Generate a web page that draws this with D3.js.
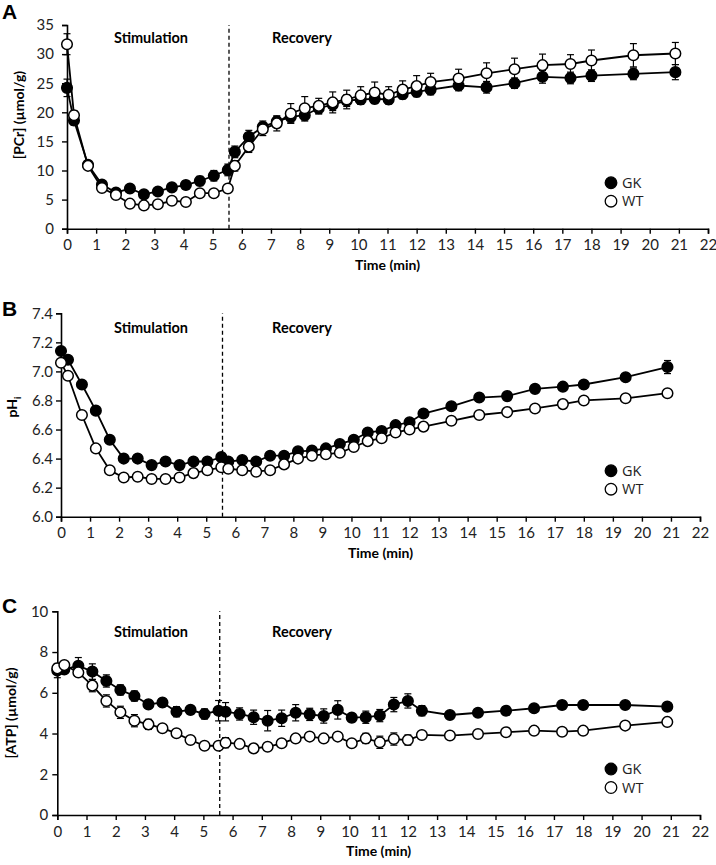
<!DOCTYPE html>
<html><head><meta charset="utf-8">
<script src="https://cdn.jsdelivr.net/npm/d3@7"></script>
<style>
body{margin:0;background:#fff;}
svg{display:block;}
</style></head>
<body>
<svg id="chart" width="716" height="865"></svg>
<script>
const times = [0,0.24,0.72,1.2,1.68,2.16,2.64,3.12,3.6,4.08,4.56,5.04,5.52,5.76,6.24,6.72,7.2,7.68,8.16,8.64,9.12,9.6,10.08,10.56,11.04,11.52,12.0,12.48,13.44,14.4,15.36,16.32,17.28,18.0,19.44,20.88];
const xTicks = d3.range(0,23,1);
const stimEnd = 5.56;

const pcrGK = [24.2,18.6,11.0,7.6,6.2,6.9,5.9,6.4,7.1,7.5,8.2,9.1,10.1,13.2,15.8,17.5,18.4,19.2,19.5,20.7,21.3,22.0,22.2,22.3,22.2,23.1,23.5,23.9,24.6,24.3,25.0,26.1,25.9,26.3,26.6,26.9];
const pcrWT = [31.7,19.5,10.8,7.0,5.8,4.3,4.0,4.2,4.8,4.6,6.1,6.1,6.9,10.8,14.1,17.1,18.1,19.8,20.7,21.1,21.7,22.2,22.9,23.4,23.0,23.9,24.5,25.2,25.8,26.7,27.4,28.1,28.3,28.9,29.8,30.1];
const pcrGKerr = [1.5,0.8,0.6,0.5,0.5,0.6,0.6,0.6,0.6,0.7,0.8,0.9,1.0,1.0,1.1,1.0,0.9,1.0,1.0,1.0,1.0,1.0,0.8,0.8,0.8,0.8,0.8,0.9,0.9,1.0,0.9,1.1,1.0,1.0,1.0,1.3];
const pcrWTerr = [1.8,0.8,0.6,0.5,0.5,0.5,0.5,0.5,0.5,0.5,0.6,0.6,0.7,0.9,1.0,1.1,1.3,1.7,2.0,1.3,1.8,1.6,1.5,1.8,1.4,1.5,1.8,1.5,1.6,1.8,1.9,1.9,1.6,1.8,2.0,1.9];
const pcrTicks = [0,5,10,15,20,25,30,35];

const phGK = [7.14,7.08,6.91,6.73,6.53,6.40,6.40,6.355,6.38,6.355,6.38,6.38,6.41,6.38,6.39,6.38,6.42,6.42,6.45,6.455,6.47,6.50,6.53,6.58,6.59,6.63,6.65,6.71,6.76,6.82,6.83,6.88,6.895,6.91,6.96,7.03];
const phWT = [7.06,6.97,6.70,6.47,6.32,6.27,6.275,6.26,6.26,6.27,6.30,6.32,6.34,6.33,6.32,6.31,6.32,6.36,6.40,6.42,6.43,6.44,6.48,6.52,6.54,6.58,6.60,6.62,6.66,6.70,6.72,6.745,6.775,6.80,6.815,6.85];
const phGKerr = [0.02,0.02,0.02,0.02,0.02,0.02,0.02,0.02,0.02,0.02,0.02,0.02,0.02,0.02,0.02,0.02,0.02,0.02,0.02,0.02,0.02,0.02,0.02,0.02,0.02,0.02,0.02,0.02,0.02,0.02,0.02,0.02,0.02,0.02,0.02,0.045];
const phWTerr = [0.02,0.02,0.02,0.02,0.02,0.02,0.02,0.02,0.02,0.02,0.02,0.02,0.02,0.02,0.02,0.02,0.02,0.02,0.02,0.02,0.02,0.02,0.02,0.02,0.02,0.02,0.02,0.02,0.02,0.02,0.02,0.02,0.02,0.02,0.02,0.02];
const phTicks = [6.0,6.2,6.4,6.6,6.8,7.0,7.2,7.4];

const atpGK = [7.09,7.15,7.33,7.04,6.58,6.14,5.84,5.43,5.52,5.07,5.16,4.96,5.12,5.07,4.96,4.80,4.63,4.75,5.02,4.94,4.86,5.16,4.78,4.80,4.88,5.42,5.6,5.12,4.91,5.02,5.12,5.24,5.4,5.4,5.4,5.32];
const atpWT = [7.2,7.36,7.0,6.35,5.6,5.04,4.63,4.45,4.26,4.01,3.68,3.40,3.40,3.55,3.49,3.27,3.35,3.52,3.76,3.85,3.76,3.85,3.52,3.76,3.57,3.73,3.68,3.93,3.90,3.98,4.06,4.14,4.09,4.14,4.39,4.57];
const atpGKerr = [0.35,0.2,0.4,0.38,0.3,0.25,0.25,0.2,0.2,0.25,0.2,0.25,0.5,0.45,0.3,0.35,0.5,0.4,0.4,0.3,0.35,0.45,0.2,0.3,0.3,0.35,0.35,0.25,0.15,0.15,0.2,0.15,0.2,0.2,0.15,0.15];
const atpWTerr = [0.2,0.15,0.2,0.3,0.3,0.3,0.3,0.25,0.15,0.15,0.15,0.15,0.15,0.25,0.15,0.15,0.15,0.15,0.15,0.15,0.15,0.15,0.15,0.25,0.3,0.3,0.25,0.15,0.15,0.15,0.15,0.15,0.15,0.15,0.15,0.15];
const atpTicks = [0,2,4,6,8,10];

const seriesNames = ["GK","WT"];

const svg = d3.select("#chart");
const tickFont = "Lato, 'Open Sans', sans-serif";

function panel(cfg){
  const g = svg.append("g");
  const x = d3.scaleLinear().domain([0,22]).range([cfg.x0, cfg.x1]);
  const y = d3.scaleLinear().domain(cfg.yDomain).range([cfg.yBottom, cfg.yTop]);

  const xa = g.append("g").attr("transform",`translate(0,${cfg.yBottom})`)
    .call(d3.axisBottom(x).tickValues(xTicks).tickSize(5).tickPadding(6).tickFormat(d3.format("d")));
  const ya = g.append("g").attr("transform",`translate(${cfg.x0},0)`)
    .call(d3.axisLeft(y).tickValues(cfg.yTicks).tickSize(5).tickPadding(cfg.yPad).tickFormat(cfg.fmt));
  [xa,ya].forEach(a=>{
    a.select(".domain").attr("stroke","#000").attr("stroke-width",1.6);
    a.selectAll(".tick line").attr("stroke","#000").attr("stroke-width",1.4);
    a.selectAll("text").attr("font-family",tickFont).attr("font-size",15).attr("fill","#222");
  });

  g.append("line").attr("x1",x(stimEnd)).attr("x2",x(stimEnd))
    .attr("y1",cfg.yBottom).attr("y2",cfg.yTop)
    .attr("stroke","#000").attr("stroke-width",1.3).attr("stroke-dasharray","4,3");

  g.append("text").attr("x",151).attr("y",cfg.phaseY).attr("text-anchor","middle")
    .attr("font-family",tickFont).attr("font-weight","bold").attr("font-size",14.5).text("Stimulation");
  g.append("text").attr("x",302).attr("y",cfg.phaseY).attr("text-anchor","middle")
    .attr("font-family",tickFont).attr("font-weight","bold").attr("font-size",14.5).text("Recovery");

  const data = [cfg.gk, cfg.wt];
  const errs = [cfg.gkErr, cfg.wtErr];
  const line = d3.line().x((d,i)=>x(times[i])).y(d=>y(d));
  data.forEach((vals, s)=>{
    const sg = g.append("g");
    sg.append("path").datum(vals).attr("d",line).attr("fill","none")
      .attr("stroke","#000").attr("stroke-width",1.8);
    const eb = sg.selectAll(".eb").data(vals).enter().append("g");
    eb.append("line").attr("x1",(d,i)=>x(times[i])).attr("x2",(d,i)=>x(times[i]))
      .attr("y1",(d,i)=>y(d+errs[s][i])).attr("y2",(d,i)=>y(d-errs[s][i]))
      .attr("stroke","#000").attr("stroke-width",1.2);
    [1,-1].forEach(sign=>{
      eb.append("line").attr("x1",(d,i)=>x(times[i])-3.5).attr("x2",(d,i)=>x(times[i])+3.5)
        .attr("y1",(d,i)=>y(d+sign*errs[s][i])).attr("y2",(d,i)=>y(d+sign*errs[s][i]))
        .attr("stroke","#000").attr("stroke-width",1.2);
    });
    sg.selectAll("circle").data(vals).enter().append("circle")
      .attr("cx",(d,i)=>x(times[i])).attr("cy",d=>y(d)).attr("r",5.3)
      .attr("fill", s===0 ? "#000" : "#fff").attr("stroke","#000").attr("stroke-width",1.5);
  });

  g.append("text").attr("x",(cfg.x0+cfg.x1)/2).attr("y",cfg.yBottom+41).attr("text-anchor","middle")
    .attr("font-family",tickFont).attr("font-weight","bold").attr("font-size",14).text("Time (min)");
  const yt = g.append("text").attr("transform",`translate(${cfg.ytX},${cfg.ytY}) rotate(-90)`)
    .attr("text-anchor","middle").attr("font-family",tickFont).attr("font-weight","bold").attr("font-size",14);
  if(cfg.sub){
    yt.append("tspan").text(cfg.ylabel);
    yt.append("tspan").attr("font-size",9).attr("dy",4).text(cfg.sub);
  } else yt.text(cfg.ylabel);

  g.append("text").attr("x",2).attr("y",cfg.letterY).attr("font-family","'Liberation Sans', Arial, sans-serif")
    .attr("font-weight","bold").attr("font-size",21).text(cfg.letter);

  seriesNames.forEach((n,s)=>{
    const ly = cfg.legY + s*18.5;
    g.append("circle").attr("cx",611).attr("cy",ly).attr("r",5.8)
      .attr("fill", s===0?"#000":"#fff").attr("stroke","#000").attr("stroke-width",1.3);
    g.append("text").attr("x",622).attr("y",ly+5).attr("font-family","'Open Sans', sans-serif")
      .attr("font-size",14.5).attr("fill","#222").text(n);
  });
}

panel({letter:"A", letterY:19, x0:67, x1:708, yBottom:228.7, yTop:25, yDomain:[0,35], yTicks:pcrTicks,
  fmt:d3.format("d"), yPad:8, phaseY:43, gk:pcrGK, wt:pcrWT, gkErr:pcrGKerr, wtErr:pcrWTerr,
  ylabel:"[PCr] (µmol/g)", ytX:24, ytY:115, legY:182.7});
panel({letter:"B", letterY:316, x0:61, x1:700, yBottom:516.7, yTop:313.3, yDomain:[6.0,7.4], yTicks:phTicks,
  fmt:d3.format(".1f"), yPad:3, phaseY:333, gk:phGK, wt:phWT, gkErr:phGKerr, wtErr:phWTerr,
  ylabel:"pH", sub:"i", ytX:17, ytY:407, legY:470.7});
panel({letter:"C", letterY:613, x0:57.3, x1:700, yBottom:815, yTop:611.3, yDomain:[0,10], yTicks:atpTicks,
  fmt:d3.format("d"), yPad:4, phaseY:637, gk:atpGK, wt:atpWT, gkErr:atpGKerr, wtErr:atpWTerr,
  ylabel:"[ATP] (µmol/g)", ytX:16, ytY:713, legY:769});
</script>
</body></html>
